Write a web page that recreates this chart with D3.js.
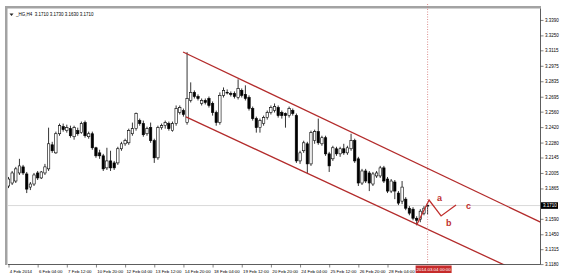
<!DOCTYPE html>
<html>
<head>
<meta charset="utf-8">
<style>
body { margin: 0; background: #fff; }
svg { display: block; font-family: "Liberation Sans", Arial, sans-serif; }
</style>
</head>
<body>
<svg width="561" height="279"></svg>
<script src="https://d3js.org/d3.v7.min.js"></script>
<script>
// _HG,H4 candles, one per 4 hours, from 4 Feb 2014 20:00 to 4 Mar 2014 00:00
var opens = [3.1887,3.1914,3.1932,3.2005,3.2060,3.1996,3.1877,3.1905,3.2005,3.1960,
  3.2005,3.2042,3.2260,3.2187,3.2360,3.2424,3.2388,3.2406,3.2333,3.2388,
  3.2370,3.2461,3.2333,3.2360,3.2233,3.2187,3.2160,3.2051,3.2114,3.2096,
  3.2096,3.2224,3.2269,3.2278,3.2360,3.2406,3.2479,3.2452,3.2360,3.2415,
  3.2297,3.2142,3.2415,3.2433,3.2452,3.2388,3.2452,3.2552,3.2570,3.2461,
  3.2661,3.2734,3.2697,3.2634,3.2661,3.2679,3.2634,3.2552,3.2461,3.2707,
  3.2734,3.2725,3.2725,3.2688,3.2752,3.2716,3.2688,3.2588,3.2497,3.2415,
  3.2452,3.2506,3.2552,3.2570,3.2597,3.2552,3.2543,3.2524,3.2570,3.2524,
  3.2114,3.2206,3.2269,3.2087,3.2297,3.2379,3.2269,3.2324,3.2178,3.2133,
  3.2224,3.2178,3.2224,3.2187,3.2224,3.2297,3.2133,3.1914,3.2023,3.2005,
  3.1905,3.1978,3.1978,3.2051,3.1950,3.1841,3.1923,3.1823,3.1750,3.1768,
  3.1686,3.1677,3.1595,3.1586,3.1641,3.1710];
var highs = [3.1969,3.2023,3.2060,3.2133,3.2078,3.2014,3.1923,3.2005,3.2023,3.2023,
  3.2087,3.2415,3.2287,3.2379,3.2452,3.2452,3.2442,3.2433,3.2433,3.2415,
  3.2470,3.2479,3.2379,3.2379,3.2242,3.2215,3.2178,3.2233,3.2206,3.2114,
  3.2242,3.2287,3.2315,3.2406,3.2461,3.2552,3.2497,3.2479,3.2424,3.2461,
  3.2315,3.2433,3.2452,3.2479,3.2470,3.2470,3.2616,3.2616,3.2588,3.3098,
  3.2825,3.2752,3.2716,3.2679,3.2679,3.2697,3.2652,3.2570,3.2734,3.2779,
  3.2761,3.2743,3.2743,3.2852,3.2770,3.2798,3.2707,3.2606,3.2515,3.2497,
  3.2524,3.2570,3.2616,3.2634,3.2616,3.2570,3.2552,3.2606,3.2588,3.2543,
  3.2206,3.2297,3.2287,3.2388,3.2397,3.2497,3.2342,3.2342,3.2196,3.2251,
  3.2242,3.2242,3.2269,3.2251,3.2360,3.2315,3.2151,3.2042,3.2042,3.2023,
  3.2014,3.2023,3.2069,3.2069,3.1969,3.1950,3.1941,3.1841,3.1932,3.1786,
  3.1705,3.1695,3.1613,3.1677,3.1705,3.1730];
var lows = [3.1868,3.1896,3.1914,3.1987,3.1987,3.1823,3.1850,3.1887,3.1941,3.1950,
  3.1987,3.2023,3.2187,3.2178,3.2342,3.2379,3.2370,3.2324,3.2306,3.2342,
  3.2360,3.2324,3.2315,3.2215,3.2142,3.2133,3.2023,3.2032,3.2023,3.2032,
  3.2078,3.2206,3.2251,3.2260,3.2342,3.2388,3.2433,3.2333,3.2342,3.2278,
  3.2096,3.2124,3.2397,3.2406,3.2388,3.2379,3.2433,3.2534,3.2515,3.2442,
  3.2643,3.2679,3.2661,3.2616,3.2625,3.2597,3.2524,3.2433,3.2442,3.2688,
  3.2716,3.2697,3.2679,3.2670,3.2688,3.2661,3.2570,3.2479,3.2370,3.2370,
  3.2433,3.2488,3.2534,3.2552,3.2506,3.2497,3.2415,3.2506,3.2524,3.2096,
  3.2087,3.2187,3.2005,3.2069,3.2269,3.2260,3.2251,3.2160,3.2014,3.2114,
  3.2160,3.2151,3.2169,3.2169,3.2206,3.2096,3.1887,3.1896,3.1914,3.1841,
  3.1887,3.1960,3.1960,3.1914,3.1823,3.1823,3.1768,3.1714,3.1723,3.1668,
  3.1622,3.1577,3.1531,3.1559,3.1622,3.1630];
var closes = [3.1950,3.2005,3.2042,3.2069,3.2005,3.1859,3.1905,3.1987,3.1960,3.2014,
  3.2060,3.2269,3.2206,3.2360,3.2433,3.2397,3.2415,3.2342,3.2415,3.2360,
  3.2452,3.2342,3.2360,3.2233,3.2160,3.2160,3.2042,3.2114,3.2051,3.2051,
  3.2224,3.2269,3.2297,3.2388,3.2406,3.2543,3.2452,3.2351,3.2406,3.2297,
  3.2142,3.2415,3.2433,3.2461,3.2406,3.2452,3.2588,3.2597,3.2534,3.2679,
  3.2734,3.2697,3.2679,3.2661,3.2643,3.2616,3.2552,3.2461,3.2707,3.2752,
  3.2730,3.2716,3.2697,3.2770,3.2707,3.2679,3.2588,3.2497,3.2415,3.2479,
  3.2506,3.2552,3.2597,3.2606,3.2524,3.2524,3.2524,3.2588,3.2543,3.2114,
  3.2187,3.2278,3.2087,3.2370,3.2379,3.2278,3.2324,3.2178,3.2069,3.2233,
  3.2178,3.2224,3.2187,3.2233,3.2297,3.2114,3.1914,3.2023,3.1932,3.1914,
  3.1996,3.2005,3.2051,3.1932,3.1841,3.1932,3.1841,3.1732,3.1877,3.1686,
  3.1641,3.1595,3.1577,3.1659,3.1686,3.1710];

// time axis: one label every 8 bars (32 hours)
var timeLabels = ["4 Feb 2014","6 Feb 04:00","7 Feb 12:00","10 Feb 20:00","12 Feb 04:00",
  "13 Feb 12:00","14 Feb 20:00","18 Feb 04:00","19 Feb 12:00","20 Feb 20:00",
  "24 Feb 04:00","25 Feb 12:00","26 Feb 20:00","28 Feb 04:00"];
var labelStep = 8;

// price axis labels as the terminal printed them (3.1730 sits under the bid tag)
var priceTicks = [3.3390,3.3250,3.3115,3.2975,3.2835,3.2695,3.2560,3.2420,3.2280,
  3.2145,3.2005,3.1865,3.1590,3.1450,3.1315,3.1180];

var bidPrice = 3.1710;
var cursorBar = 115, cursorLabel = "2014.03.04 00:00";
var header = "_HG,H4  3.1710 3.1730 3.1630 3.1710";

// hand drawn channel: two anchor points each [bar, price]
var channelUpper = [[47.9, 3.3100], [145.9, 3.1561]];
var channelLower = [[48.7, 3.2512], [134.9, 3.1190]];
// a-b-c correction sketch
var wavePoints = [[112.1, 3.1540], [115.4, 3.1760], [118.7, 3.1616], [122.8, 3.1715]];
var waveNames = ["a", "b", "c"];

var svg = d3.select("svg"),
    plot = {left: 8, top: 8.5, right: 540.5, bottom: 264.5},
    red = "#b32b2b";

var x = d3.scaleLinear().domain([0, 115]).range([8.5, 427.6]);
var y = d3.scaleLinear().domain([3.1181, 3.3489]).range([264, 9]);

svg.append("clipPath").attr("id", "plotclip")
  .append("rect")
    .attr("x", plot.left).attr("y", plot.top)
    .attr("width", plot.right - plot.left).attr("height", plot.bottom - plot.top);

// window frame
svg.append("rect").attr("x", 5).attr("y", 6).attr("width", 2.5).attr("height", 259).attr("fill", "#a3a3a3");
svg.append("rect").attr("x", 5).attr("y", 6).attr("width", 536).attr("height", 2.5).attr("fill", "#a3a3a3");

var g = svg.append("g").attr("clip-path", "url(#plotclip)");

// bid line
g.append("line")
    .attr("x1", plot.left).attr("x2", plot.right)
    .attr("y1", y(bidPrice)).attr("y2", y(bidPrice))
    .attr("stroke", "#cfcfcf").attr("stroke-width", 0.8);

// candles
var bars = d3.range(closes.length);
var candle = g.append("g").selectAll("g")
  .data(bars)
  .enter().append("g");

candle.append("line")
    .attr("x1", function(i) { return x(i); })
    .attr("x2", function(i) { return x(i); })
    .attr("y1", function(i) { return y(highs[i]); })
    .attr("y2", function(i) { return y(lows[i]); })
    .attr("stroke", "#000").attr("stroke-width", 0.8);

candle.append("rect")
    .attr("x", function(i) { return x(i) - 1.2; })
    .attr("y", function(i) { return y(Math.max(opens[i], closes[i])); })
    .attr("width", 2.4)
    .attr("height", function(i) { return Math.max(0.6, Math.abs(y(opens[i]) - y(closes[i]))); })
    .attr("fill", function(i) { return closes[i] >= opens[i] ? "#fff" : "#000"; })
    .attr("stroke", "#000").attr("stroke-width", 0.6);

// channel rays
function ray(p) {
  var x1 = x(p[0][0]), y1 = y(p[0][1]), x2 = x(p[1][0]), y2 = y(p[1][1]);
  var k = (y2 - y1) / (x2 - x1);
  return [[x1, y1], [plot.right, y1 + k * (plot.right - x1)]];
}
g.selectAll(".channel")
  .data([channelUpper, channelLower])
  .enter().append("path")
    .attr("class", "channel")
    .attr("d", function(d) { return d3.line()(ray(d)); })
    .attr("fill", "none").attr("stroke", red).attr("stroke-width", 1.3);

// wave sketch
g.append("path")
    .attr("d", d3.line().x(function(d) { return x(d[0]); }).y(function(d) { return y(d[1]); })(wavePoints))
    .attr("fill", "none").attr("stroke", "#c0302e").attr("stroke-width", 1.3);

var nameOffset = [[8, 1], [5, 10], [10, 4]];
g.selectAll(".wave")
  .data(waveNames)
  .enter().append("text")
    .attr("class", "wave")
    .attr("x", function(d, i) { return x(wavePoints[i + 1][0]) + nameOffset[i][0]; })
    .attr("y", function(d, i) { return y(wavePoints[i + 1][1]) + nameOffset[i][1]; })
    .attr("font-size", 9).attr("font-weight", "bold")
    .attr("fill", "#c0302e")
    .text(function(d) { return d; });

// crosshair
svg.append("line")
    .attr("x1", x(cursorBar)).attr("x2", x(cursorBar))
    .attr("y1", 4).attr("y2", plot.bottom)
    .attr("stroke", "#d27070").attr("stroke-width", 0.8)
    .attr("stroke-dasharray", "1,1.5");

// axes
var yAxis = svg.append("g")
    .attr("transform", "translate(" + plot.right + ",0)")
    .call(d3.axisRight(y).tickValues(priceTicks).tickSize(3).tickPadding(1.5)
      .tickFormat(d3.format(".4f")));
yAxis.select(".domain").remove();
yAxis.selectAll("text").attr("font-size", 4.5).attr("font-family", "Liberation Sans, Arial, sans-serif");
yAxis.selectAll("line").attr("stroke", "#333").attr("stroke-width", 0.6);

var xAxis = svg.append("g")
    .attr("transform", "translate(0," + plot.bottom + ")")
    .call(d3.axisBottom(x)
      .tickValues(timeLabels.map(function(d, i) { return i * labelStep; }))
      .tickSize(3).tickPadding(2)
      .tickFormat(function(d, i) { return timeLabels[i]; }));
xAxis.select(".domain").remove();
xAxis.selectAll("text").attr("font-size", 4.4).attr("text-anchor", "start").attr("dx", 0.8)
    .attr("font-family", "Liberation Sans, Arial, sans-serif");
xAxis.selectAll("line").attr("stroke", "#333").attr("stroke-width", 0.6);

// chart borders
svg.append("path")
    .attr("d", "M" + plot.left + "," + plot.bottom + "H" + plot.right + "V" + plot.top)
    .attr("fill", "none").attr("stroke", "#333").attr("stroke-width", 0.8);

// bid price tag
svg.append("rect")
    .attr("x", plot.right + 0.5).attr("y", y(bidPrice) - 3.3)
    .attr("width", 17).attr("height", 6.6).attr("fill", "#000");
svg.append("text")
    .attr("x", plot.right + 2.5).attr("y", y(bidPrice) + 1.6)
    .attr("font-size", 4.5).attr("fill", "#fff")
    .text(d3.format(".4f")(bidPrice));

// time tag of the crosshair
svg.append("rect")
    .attr("x", x(cursorBar) - 12).attr("y", plot.bottom + 1)
    .attr("width", 36).attr("height", 7.5).attr("fill", "#c62b2b");
svg.append("text")
    .attr("x", x(cursorBar) + 6).attr("y", plot.bottom + 6.4)
    .attr("text-anchor", "middle")
    .attr("font-size", 4.4).attr("fill", "#fff")
    .text(cursorLabel);

// header
svg.append("path").attr("d", "M9.5,13.5h4l-2,2.5z").attr("fill", "#222");
svg.append("text")
    .attr("x", 16).attr("y", 16)
    .attr("font-size", 4.5).attr("fill", "#000")
    .attr("xml:space", "preserve")
    .text(header);
</script>
</body>
</html>
